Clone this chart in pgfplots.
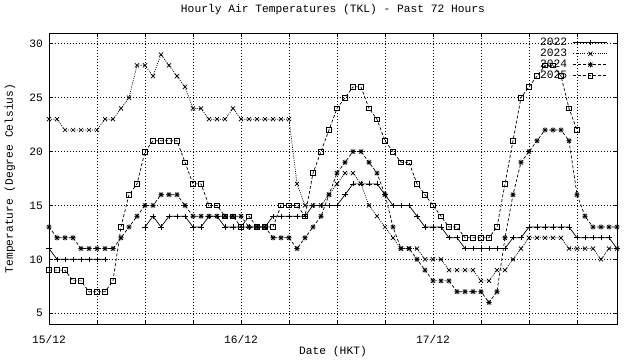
\documentclass[border=0pt]{standalone}
\usepackage{pgfplots}
\pgfplotsset{compat=1.18}
\usepackage{pgfplotstable}
\usepackage{fontspec}
\setmainfont{Liberation Mono}

\pgfdeclareplotmark{gplus}{%
  \pgfpathmoveto{\pgfqpoint{-\pgfplotmarksize}{0pt}}%
  \pgfpathlineto{\pgfqpoint{\pgfplotmarksize}{0pt}}%
  \pgfpathmoveto{\pgfqpoint{0pt}{-\pgfplotmarksize}}%
  \pgfpathlineto{\pgfqpoint{0pt}{\pgfplotmarksize}}%
  \pgfusepathqstroke}
\pgfdeclareplotmark{gx}{%
  \pgfpathmoveto{\pgfqpoint{-0.8\pgfplotmarksize}{-0.8\pgfplotmarksize}}%
  \pgfpathlineto{\pgfqpoint{0.8\pgfplotmarksize}{0.8\pgfplotmarksize}}%
  \pgfpathmoveto{\pgfqpoint{-0.8\pgfplotmarksize}{0.8\pgfplotmarksize}}%
  \pgfpathlineto{\pgfqpoint{0.8\pgfplotmarksize}{-0.8\pgfplotmarksize}}%
  \pgfusepathqstroke}
\pgfdeclareplotmark{gstar}{%
  \pgfpathmoveto{\pgfqpoint{-\pgfplotmarksize}{0pt}}%
  \pgfpathlineto{\pgfqpoint{\pgfplotmarksize}{0pt}}%
  \pgfpathmoveto{\pgfqpoint{0pt}{-\pgfplotmarksize}}%
  \pgfpathlineto{\pgfqpoint{0pt}{\pgfplotmarksize}}%
  \pgfpathmoveto{\pgfqpoint{-0.8\pgfplotmarksize}{-0.8\pgfplotmarksize}}%
  \pgfpathlineto{\pgfqpoint{0.8\pgfplotmarksize}{0.8\pgfplotmarksize}}%
  \pgfpathmoveto{\pgfqpoint{-0.8\pgfplotmarksize}{0.8\pgfplotmarksize}}%
  \pgfpathlineto{\pgfqpoint{0.8\pgfplotmarksize}{-0.8\pgfplotmarksize}}%
  \pgfusepathqstroke}

\pgfplotstableread{
h t22 t23 t24 t25
0 11 23 13 9
1 10 23 12 9
2 10 22 12 9
3 10 22 12 8
4 10 22 11 8
5 10 22 11 7
6 10 22 11 7
7 10 23 11 7
8 nan 23 11 8
9 nan 24 12 13
10 nan 25 13 16
11 nan 28 14 17
12 13 28 15 20
13 14 27 15 21
14 13 29 16 21
15 14 28 16 21
16 14 27 16 21
17 14 26 15 19
18 13 24 14 17
19 13 24 14 17
20 14 23 14 15
21 14 23 14 15
22 13 23 14 14
23 13 24 14 14
24 13 23 14 13
25 13 23 13 14
26 13 23 13 13
27 13 23 13 13
28 14 23 12 13
29 14 23 12 15
30 14 23 12 15
31 14 17 11 15
32 14 15 12 14
33 15 15 13 18
34 15 15 14 20
35 15 16 16 22
36 15 17 18 24
37 16 18 19 25
38 17 18 20 26
39 17 17 20 26
40 17 15 19 24
41 17 14 18 23
42 16 13 16 21
43 15 12 13 20
44 15 11 11 19
45 15 11 11 19
46 14 11 10 17
47 13 10 9 16
48 13 10 8 15
49 13 10 8 14
50 12 9 8 13
51 12 9 7 13
52 11 9 7 12
53 11 9 7 12
54 11 8 7 12
55 11 8 6 12
56 11 9 7 13
57 11 9 12 17
58 12 10 16 21
59 12 11 19 25
60 13 12 20 26
61 13 12 21 27
62 13 12 22 28
63 13 12 22 28
64 13 12 22 27
65 13 11 21 24
66 12 11 16 22
67 12 11 14 nan
68 12 11 13 nan
69 12 10 13 nan
70 12 11 13 nan
71 11 11 13 nan
}\temps

\begin{document}
\begin{tikzpicture}[font=\fontsize{11.3}{12}\selectfont]
\begin{axis}[name=ax, scale only axis, width=568bp, height=291bp,
  xmin=0, xmax=71, ymin=4, ymax=31,
  xtick={0,6,...,66}, xticklabels={15/12,,,,16/12,,,,17/12,,,},
  ytick={5,10,...,30},
  grid=major, grid style={black, line width=0.6bp, dash pattern=on 1bp off 2bp},
  tick align=inside, major tick length=4bp, tick style={black, line width=0.7bp},
  axis line style={line width=0.8bp},
  /pgf/number format/assume math mode=true,
  unbounded coords=jump,
  title={Hourly Air Temperatures (TKL) - Past 72 Hours},
  title style={at={(axis description cs:0.5,1)}, anchor=center, yshift=17bp, inner sep=0pt},
  xlabel={Date (HKT)},
  xlabel style={at={(axis description cs:0.5,0)}, anchor=center, yshift=-28bp, inner sep=0pt},
  ylabel={Temperature (Degree Celsius)},
  ylabel style={at={(axis description cs:-0.0687,0.5)}, anchor=center, inner sep=0pt},
  xticklabel style={anchor=center, yshift=-15bp, inner sep=0pt},
  yticklabel style={anchor=east, xshift=-6bp, inner sep=0pt},
  legend plot pos=right, legend cell align=right,
  legend style={at={(axis description cs:1,1)}, anchor=north east, xshift=-9bp, yshift=-3bp,
    draw=none, fill=none, inner sep=0pt, row sep=-2pt, font=\fontsize{11.3}{11}\selectfont,
    /tikz/every odd column/.append style={column sep=4bp}},
  legend image code/.code={\draw[mark repeat=2,mark phase=2] plot coordinates {(0bp,0bp)(17bp,0bp)(34bp,0bp)};},
  every axis plot/.append style={black, line width=0.7bp, mark size=2.6bp, mark options={solid}},
]
\addplot[mark=gplus] table[x=h, y=t22] {\temps};
\addlegendentry{2022}
\addplot[mark=gx, dash pattern=on 1bp off 1.2bp] table[x=h, y=t23] {\temps};
\addlegendentry{2023}
\addplot[mark=gstar, dash pattern=on 3bp off 2bp] table[x=h, y=t24] {\temps};
\addlegendentry{2024}
\addplot[mark=square, mark size=2.3bp, dash pattern=on 3bp off 2bp] table[x=h, y=t25] {\temps};
\addlegendentry{2025}
\end{axis}
\pgfresetboundingbox
\path (ax.south west) ++(-49bp,-36bp) rectangle ++(640bp,360bp);
\end{tikzpicture}
\end{document}
